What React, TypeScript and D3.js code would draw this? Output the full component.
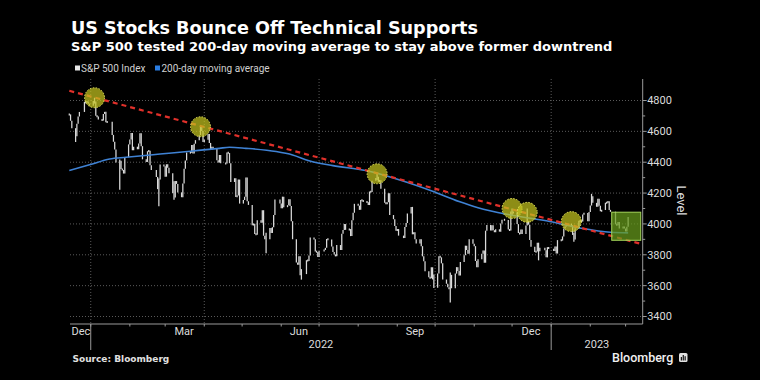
import React from "react";
import * as d3 from "d3";

// ---------- DATA ----------
const titleText = "US Stocks Bounce Off Technical Supports";
const subtitleText = "S&P 500 tested 200-day moving average to stay above former downtrend";
const legendLabels = ["S&P 500 Index", "200-day moving average"];

// US market holidays inside the window
const holidays = [
  "2021-12-24", "2022-01-17", "2022-02-21", "2022-04-15", "2022-05-30", "2022-06-20",
  "2022-07-04", "2022-09-05", "2022-11-24", "2022-12-26", "2023-01-02", "2023-01-16", "2023-02-20",
];

// S&P 500 daily closes by month (trading days in order)
const dec21 = [4709.85, 4668.67, 4620.64, 4568.02, 4649.23, 4696.56, 4725.79, 4791.19, 4786.35, 4793.06, 4778.73, 4766.18];
const jan22 = [4796.56, 4793.54, 4700.58, 4696.05, 4677.03, 4670.29, 4713.07, 4726.35, 4659.03, 4662.85, 4577.11, 4532.76, 4482.73, 4397.94, 4410.13, 4356.45, 4349.93, 4326.51, 4431.85, 4515.55];
const feb22 = [4546.54, 4589.38, 4477.44, 4500.53, 4483.87, 4521.54, 4587.18, 4504.08, 4418.64, 4401.67, 4471.07, 4475.01, 4380.26, 4348.87, 4304.76, 4225.5, 4288.7, 4384.65, 4373.94];
const mar22 = [4306.26, 4386.54, 4363.49, 4328.87, 4201.09, 4170.7, 4277.88, 4259.52, 4204.31, 4173.11, 4262.45, 4357.86, 4411.67, 4463.12, 4461.18, 4511.61, 4456.24, 4520.16, 4543.06, 4575.52, 4631.6, 4602.45, 4530.41];
const apr22 = [4545.86, 4582.64, 4525.12, 4481.15, 4500.21, 4488.28, 4412.53, 4397.45, 4446.59, 4392.59, 4391.69, 4462.21, 4459.45, 4393.66, 4271.78, 4296.12, 4175.2, 4183.96, 4287.5, 4131.93];
const may22 = [4155.38, 4175.48, 4300.17, 4146.87, 4123.34, 3991.24, 4001.05, 3935.18, 3930.08, 4023.89, 4008.01, 4088.85, 3923.68, 3900.79, 3901.36, 3973.75, 3941.48, 3978.73, 4057.84, 4158.24, 4132.15];
const jun22 = [4101.23, 4176.82, 4108.54, 4121.43, 4160.68, 4115.77, 4017.82, 3900.86, 3749.63, 3735.48, 3789.99, 3666.77, 3674.84, 3764.79, 3759.89, 3795.73, 3911.74, 3900.11, 3821.55, 3818.83, 3785.38];
const jul22 = [3825.33, 3831.39, 3845.08, 3902.62, 3899.38, 3854.43, 3818.8, 3801.78, 3790.38, 3863.16, 3830.85, 3936.69, 3959.9, 3998.95, 3961.63, 3966.84, 3921.05, 4023.61, 4072.43, 4130.29];
const aug22 = [4118.63, 4091.19, 4155.17, 4151.94, 4145.19, 4140.06, 4122.47, 4210.24, 4207.27, 4280.15, 4297.14, 4305.2, 4274.04, 4283.74, 4228.48, 4137.99, 4128.73, 4140.77, 4199.12, 4057.66, 4030.61, 3986.16, 3955.0];
const sep22 = [3966.85, 3924.26, 3908.19, 3979.87, 4006.18, 4067.36, 4110.41, 3932.69, 3946.01, 3901.35, 3873.33, 3899.89, 3855.93, 3789.93, 3757.99, 3693.23, 3655.04, 3647.29, 3719.04, 3640.47, 3585.62];
const oct22 = [3678.43, 3790.93, 3783.28, 3744.52, 3639.66, 3612.39, 3588.84, 3577.03, 3669.91, 3583.07, 3677.95, 3719.98, 3695.16, 3665.78, 3752.75, 3797.34, 3859.11, 3830.6, 3807.3, 3901.06, 3871.98];
const nov22 = [3856.1, 3759.69, 3719.89, 3770.55, 3806.8, 3828.11, 3748.57, 3956.37, 3992.93, 3957.25, 3991.73, 3958.79, 3946.56, 3965.34, 3949.94, 4003.58, 4027.26, 4026.12, 3963.94, 3957.63, 4080.11];
const dec22 = [4076.57, 4071.7, 3998.84, 3941.26, 3933.92, 3963.51, 3934.38, 3990.56, 4019.65, 3995.32, 3895.75, 3852.36, 3817.66, 3821.62, 3878.44, 3822.39, 3844.82, 3829.25, 3783.22, 3849.28, 3839.5];
const jan23 = [3824.14, 3852.97, 3808.1, 3895.08, 3892.09, 3919.25, 3969.61, 3983.17, 3999.09, 3990.97, 3928.86, 3898.85, 3972.61, 4019.81, 4016.95, 4016.22, 4060.43, 4070.56, 4017.77, 4076.6];
const feb23 = [4119.21, 4179.76, 4136.48, 4111.08, 4164.0, 4117.86, 4081.5, 4090.46, 4137.29, 4136.13, 4147.6, 4090.41, 4079.09, 3997.34, 3991.05, 4012.32, 3970.04, 3982.24, 3970.15];
const mar23 = [3951.39, 3981.35, 4045.64];

const monthBlocks: [string, number[]][] = [
  ["2021-12-15", dec21], ["2022-01-01", jan22], ["2022-02-01", feb22], ["2022-03-01", mar22],
  ["2022-04-01", apr22], ["2022-05-01", may22], ["2022-06-01", jun22], ["2022-07-01", jul22],
  ["2022-08-01", aug22], ["2022-09-01", sep22], ["2022-10-01", oct22], ["2022-11-01", nov22],
  ["2022-12-01", dec22], ["2023-01-01", jan23], ["2023-02-01", feb23], ["2023-03-01", mar23],
];

// notable intraday extremes (date, low, high)
const extremeDates = [
  "2021-12-20", "2022-01-04", "2022-01-24", "2022-02-24", "2022-03-08", "2022-03-29", "2022-05-20",
  "2022-06-17", "2022-08-16", "2022-09-30", "2022-10-13", "2022-12-01", "2022-12-13", "2022-12-22",
  "2023-01-19", "2023-02-02",
];
const extremeLows = [
  4531, 4780, 4222, 4114, 4157, 4581, 3810, 3639, 4284, 3584, 3491, 4051, 3994, 3764, 3885, 4124,
];
const extremeHighs = [
  4591, 4818, 4417, 4294, 4276, 4637, 3943, 3707, 4325, 3672, 3685, 4100, 4100, 3862, 3943, 4195,
];

// 200-day moving average
const maDates = [
  "2021-12-15", "2021-12-31", "2022-01-16", "2022-01-29", "2022-02-25", "2022-03-23", "2022-04-13",
  "2022-04-21", "2022-05-04", "2022-05-28", "2022-06-10", "2022-06-23", "2022-07-12", "2022-08-07",
  "2022-09-03", "2022-09-29", "2022-10-20", "2022-11-04", "2022-11-29", "2022-12-31", "2023-01-26",
  "2023-02-17", "2023-03-03",
];
const maValues = [
  4346, 4383, 4421, 4432, 4453, 4473, 4490, 4497, 4490, 4469, 4447, 4410, 4378, 4346,
  4285, 4212, 4145, 4105, 4059, 4016, 3970, 3946, 3942,
];

// former downtrend line (two end points)
const trendDates = ["2021-12-15", "2023-03-13"];
const trendValues = [4863, 3871];

// touch points highlighted
const touchDates = ["2022-01-04", "2022-03-29", "2022-08-16", "2022-12-01", "2022-12-13", "2023-01-17"];
const touchValues = [4818, 4630, 4325, 4100, 4075, 4015];

// highlight box (recent test)
const boxDates = ["2023-02-18", "2023-03-13"];
const boxValues = [3894, 4076];

const yTicks = [3400, 3600, 3800, 4000, 4200, 4400, 4600, 4800];
const yMinorTicks = [3500, 3700, 3900, 4100, 4300, 4500, 4700];
const monthLabels = ["Dec", "Mar", "Jun", "Sep", "Dec"];
const monthLabelDates = ["2021-12-16", "2022-03-16", "2022-06-15", "2022-09-15", "2022-12-16"];
const yearLabels = ["2022", "2023"];

// ---------- CHART ----------
const parse = d3.timeParse("%Y-%m-%d");
const fmt = d3.timeFormat("%Y-%m-%d");

function buildSeries() {
  const hol = new Set(holidays);
  const out: { date: Date; close: number }[] = [];
  for (const [start, closes] of monthBlocks) {
    let d = parse(start)!;
    let i = 0;
    while (i < closes.length) {
      const wd = d.getDay();
      if (wd !== 0 && wd !== 6 && !hol.has(fmt(d))) {
        out.push({ date: d, close: closes[i] });
        i++;
      }
      d = d3.timeDay.offset(d, 1);
    }
  }
  return out;
}

const PL = 70, PR = 642.7, PT = 79, PB = 324;

export default function App() {
  const series = buildSeries();
  const extremes = new Map(extremeDates.map((d, i) => [d, [extremeLows[i], extremeHighs[i]]]));
  const x = d3.scaleTime().domain([parse("2021-12-15")!, parse("2023-03-14")!]).range([69.3, 642]);
  const y = d3.scaleLinear().domain([3400, 4800]).range([316.5, 100.5]);

  const maLine = d3
    .line<number>()
    .x((_, i) => x(parse(maDates[i])!))
    .y((v) => y(v))
    .curve(d3.curveMonotoneX)(maValues)!;

  const gridX = [parse("2022-01-01")!, parse("2022-04-01")!, parse("2022-07-01")!, parse("2022-10-01")!, parse("2023-01-01")!];
  const monthTicks = d3.timeMonth.range(parse("2022-01-01")!, parse("2023-03-14")!);
  const yearBounds = [parse("2022-01-01")!, parse("2023-01-01")!];

  const axisFont = "Roboto, 'Noto Sans', sans-serif";
  const gridColor = "#5a5a5a";

  return (
    <svg width={760} height={380} style={{ display: "block", position: "absolute", left: 0, top: 0, background: "#000" }}>
      <rect x={0} y={0} width={760} height={380} fill="#000" />
      {/* titles */}
      <text x={71} y={34.3} fill="#fff" fontFamily="'DejaVu Sans', sans-serif" fontWeight="bold" fontSize={17.6}>
        {titleText}
      </text>
      <text x={71} y={50.7} fill="#fff" fontFamily="'DejaVu Sans', sans-serif" fontWeight="bold" fontSize={13}>
        {subtitleText}
      </text>
      {/* legend */}
      <rect x={75} y={65.5} width={5} height={5} fill="#e8e8e8" />
      <text x={81} y={71.5} fill="#d0d0d0" fontFamily={axisFont} fontSize={10}>{legendLabels[0]}</text>
      <rect x={155} y={65.5} width={5} height={5} fill="#2a7de1" />
      <text x={161.5} y={71.5} fill="#d0d0d0" fontFamily={axisFont} fontSize={10}>{legendLabels[1]}</text>

      {/* gridlines */}
      {yTicks.map((t) => (
        <line key={"gy" + t} x1={PL} x2={PR} y1={y(t)} y2={y(t)} stroke={gridColor} strokeWidth={1} strokeDasharray="1,2" />
      ))}
      {gridX.map((d, i) => (
        <line key={"gx" + i} x1={x(d)} x2={x(d)} y1={PT} y2={PB} stroke={gridColor} strokeWidth={1} strokeDasharray="1,2" />
      ))}

      {/* price bars */}
      {series.map((p, i) => {
        const prev = i > 0 ? series[i - 1].close : p.close;
        let hi = Math.max(prev, p.close);
        let lo = Math.min(prev, p.close);
        const ex = extremes.get(fmt(p.date));
        if (ex) {
          lo = Math.min(lo, ex[0]);
          hi = Math.max(hi, ex[1]);
        }
        let y1 = y(hi);
        let y2 = y(lo);
        if (y2 - y1 < 2) {
          const m = (y1 + y2) / 2;
          y1 = m - 1;
          y2 = m + 1;
        }
        const xx = x(p.date);
        return <line key={"b" + i} x1={xx} x2={xx} y1={y1} y2={y2} stroke="#dadada" strokeWidth={1.25} />;
      })}

      {/* 200-day MA */}
      <path d={maLine} fill="none" stroke="#3f82d4" strokeWidth={1.6} />

      {/* downtrend */}
      <line
        x1={x(parse(trendDates[0])!)}
        y1={y(trendValues[0])}
        x2={x(parse(trendDates[1])!)}
        y2={y(trendValues[1])}
        stroke="#e0302a"
        strokeWidth={2.2}
        strokeDasharray="5,4"
      />

      {/* touch circles */}
      {touchDates.map((d, i) => (
        <circle
          key={"c" + i}
          cx={x(parse(d)!)}
          cy={y(touchValues[i])}
          r={10}
          fill="rgba(196,196,30,0.72)"
          stroke="#e8e860"
          strokeWidth={1}
          strokeDasharray="1.5,1.5"
        />
      ))}

      {/* highlight box */}
      <rect
        x={x(parse(boxDates[0])!)}
        y={y(boxValues[1])}
        width={x(parse(boxDates[1])!) - x(parse(boxDates[0])!)}
        height={y(boxValues[0]) - y(boxValues[1])}
        fill="rgba(104,156,28,0.72)"
        stroke="#a4d45a"
        strokeWidth={1}
      />

      {/* right axis */}
      <line x1={PR} x2={PR} y1={PT} y2={PB} stroke="#9a9a9a" strokeWidth={1} />
      {yTicks.map((t) => (
        <g key={"yt" + t}>
          <line x1={PR} x2={PR + 4} y1={y(t)} y2={y(t)} stroke="#9a9a9a" strokeWidth={1} />
          <text x={PR + 4.5} y={y(t)} dy="0.36em" fill="#dcdcdc" fontFamily={axisFont} fontSize={11}>
            {t}
          </text>
        </g>
      ))}
      {yMinorTicks.map((t) => (
        <line key={"ym" + t} x1={PR} x2={PR + 2.5} y1={y(t)} y2={y(t)} stroke="#9a9a9a" strokeWidth={1} />
      ))}
      <text
        transform={`translate(677,200.5) rotate(90)`}
        textAnchor="middle"
        fill="#dcdcdc"
        fontFamily={axisFont}
        fontSize={13}
      >
        Level
      </text>

      {/* bottom axis */}
      <line x1={PL} x2={PR} y1={PB} y2={PB} stroke="#9a9a9a" strokeWidth={1} />
      {monthTicks.map((d, i) => (
        <line key={"mt" + i} x1={x(d)} x2={x(d)} y1={PB} y2={PB + 2.5} stroke="#9a9a9a" strokeWidth={1} />
      ))}
      {yearBounds.map((d, i) => (
        <line key={"yb" + i} x1={x(d)} x2={x(d)} y1={PB} y2={350} stroke="#9a9a9a" strokeWidth={1} />
      ))}
      {monthLabels.map((m, i) => {
        const cx = x(parse(monthLabelDates[i])!);
        const clamp = cx - 9.5 < PL;
        return (
          <text
            key={"ml" + i}
            x={clamp ? PL + 1.5 : cx}
            y={335}
            textAnchor={clamp ? "start" : "middle"}
            fill="#dcdcdc"
            fontFamily={axisFont}
            fontSize={11}
          >
            {m}
          </text>
        );
      })}
      <text x={(x(yearBounds[0]) + x(yearBounds[1])) / 2} y={347.7} textAnchor="middle" fill="#dcdcdc" fontFamily={axisFont} fontSize={11}>
        {yearLabels[0]}
      </text>
      <text x={(x(yearBounds[1]) + PR) / 2} y={347.7} textAnchor="middle" fill="#dcdcdc" fontFamily={axisFont} fontSize={11}>
        {yearLabels[1]}
      </text>

      {/* footer */}
      <text x={72.5} y={361.7} fill="#e0e0e0" fontFamily="'DejaVu Sans', sans-serif" fontWeight="bold" fontSize={9}>
        Source: Bloomberg
      </text>
      <text x={612} y={361.7} fill="#f0f0f0" fontFamily={axisFont} fontWeight={500} fontSize={12.5}>
        Bloomberg
      </text>
      <rect x={679} y={353} width={8.5} height={9} rx={1.5} fill="#e0e0e0" />
      <rect x={680.8} y={357} width={1.1} height={3.5} fill="#000" />
      <rect x={682.7} y={355} width={1.1} height={5.5} fill="#000" />
      <rect x={684.6} y={356.2} width={1.1} height={4.3} fill="#000" />
    </svg>
  );
}
